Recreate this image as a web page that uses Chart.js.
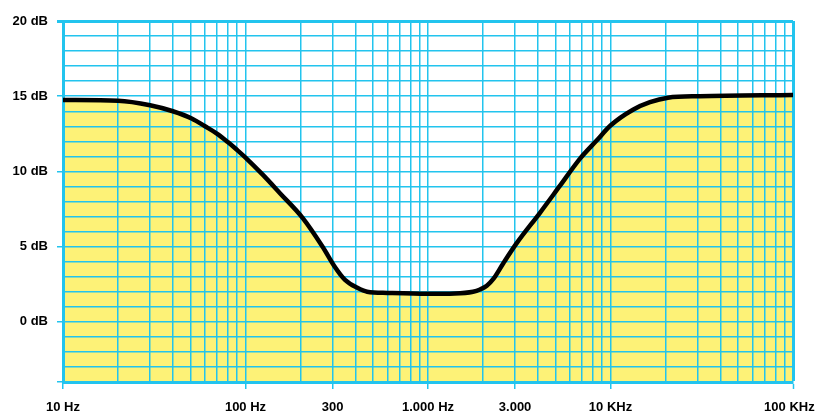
<!DOCTYPE html>
<html>
<head>
<meta charset="utf-8">
<script src="https://cdn.jsdelivr.net/npm/chart.js@4/dist/chart.umd.min.js"></script>
<style>
  html, body { margin: 0; padding: 0; background: #fff; }
  #wrap { width: 816px; height: 414px; position: relative; }
</style>
</head>
<body>
<div id="wrap"><canvas id="c"></canvas></div>
<script>
// 周波数特性（読み取り値）
const freqs = [10, 20, 30, 40, 51, 60, 70, 80, 90, 100, 125, 154, 206, 265, 309, 351, 410, 464,
  600, 1000, 1400, 1765, 1927, 2100, 2280, 2587, 3062, 4107, 5289, 6808, 8395,
  10000, 13280, 16450, 20650, 30900, 100000];
const gains = [14.75, 14.7, 14.4, 14.0, 13.5, 13.0, 12.5, 11.95, 11.42, 10.92, 9.75, 8.57, 6.9, 4.98, 3.65, 2.79, 2.26, 2.0,
  1.92, 1.86, 1.88, 2.0, 2.15, 2.4, 2.85, 3.9, 5.23, 7.25, 9.05, 10.85, 12.05,
  13.05, 14.1, 14.6, 14.9, 15.0, 15.08];

// 目盛り（100 KHz は右端で切れないよう後ろに空白）
const xLabels = { 10: "10 Hz", 100: "100 Hz", 300: "300", 1000: "1.000 Hz", 3000: "3.000", 10000: "10 KHz", 100000: "100 KHz\u00a0\u00a0" };
const yLabels = { 0: "0 dB", 5: "5 dB", 10: "10 dB", 15: "15 dB", 20: "20 dB" };
const yMin = -4, yMax = 20;

const GRID = "#22c4ee";
const FONT = { family: "'Liberation Sans', Arial, sans-serif", size: 13, weight: "bold" };

// 対数グリッド（1〜9 × 10^n）
const xGrid = [];
for (let d = 10; d < 100000; d *= 10) for (let k = 1; k <= 9; k++) xGrid.push(k * d);
xGrid.push(100000);

const points = freqs.map((f, i) => ({ x: f, y: gains[i] }));

new Chart(document.getElementById("c"), {
  type: "scatter",
  data: {
    datasets: [{
      data: points,
      showLine: true,
      borderColor: "#000",
      borderWidth: 4.5,
      borderCapStyle: "round",
      borderJoinStyle: "round",
      pointRadius: 0,
      cubicInterpolationMode: "monotone",
      fill: "start",
      backgroundColor: "#fdf277"
    }]
  },
  options: {
    responsive: true,
    maintainAspectRatio: false,
    animation: false,
    layout: { padding: { top: 21, right: 23, left: 0, bottom: 0 } },
    plugins: {
      legend: { display: false },
      tooltip: { enabled: false },
      filler: { drawTime: "beforeDraw" }
    },
    scales: {
      x: {
        type: "logarithmic",
        min: 10, max: 100000,
        afterBuildTicks: (s) => { s.ticks = xGrid.map(v => ({ value: v })); },
        afterFit: (s) => { s.height = 32; s.paddingRight = 0; s.paddingLeft = 0; },
        border: { display: true, color: GRID, width: 3 },
        grid: {
          color: GRID,
          lineWidth: (ctx) => (ctx.tick && ctx.tick.value === 100000 ? 3 : 1.5),
          tickLength: 7,
          tickWidth: 1.5,
          tickColor: (ctx) => (ctx.tick && xLabels[ctx.tick.value] ? GRID : "rgba(0,0,0,0)")
        },
        ticks: {
          autoSkip: false,
          maxRotation: 0,
          padding: 11,
          color: "#000",
          font: FONT,
          callback: (v) => xLabels[v] || ""
        }
      },
      y: {
        min: yMin, max: yMax,
        afterBuildTicks: (s) => {
          const t = [];
          for (let v = yMin; v <= yMax; v++) t.push({ value: v });
          s.ticks = t;
        },
        afterFit: (s) => { s.width = 63; },
        border: { display: true, color: GRID, width: 3 },
        grid: {
          color: GRID,
          lineWidth: (ctx) => (ctx.tick && ctx.tick.value === yMax ? 3 : 1.5),
          tickLength: 6,
          tickWidth: (ctx) => (ctx.tick && ctx.tick.value === yMax ? 3 : 1.5),
          tickColor: (ctx) => (ctx.tick && (yLabels[ctx.tick.value] || ctx.tick.value === yMin) ? GRID : "rgba(0,0,0,0)")
        },
        ticks: {
          autoSkip: false,
          padding: 9,
          color: "#000",
          font: FONT,
          callback: (v) => yLabels[v] || ""
        }
      }
    }
  }
});
</script>
</body>
</html>
